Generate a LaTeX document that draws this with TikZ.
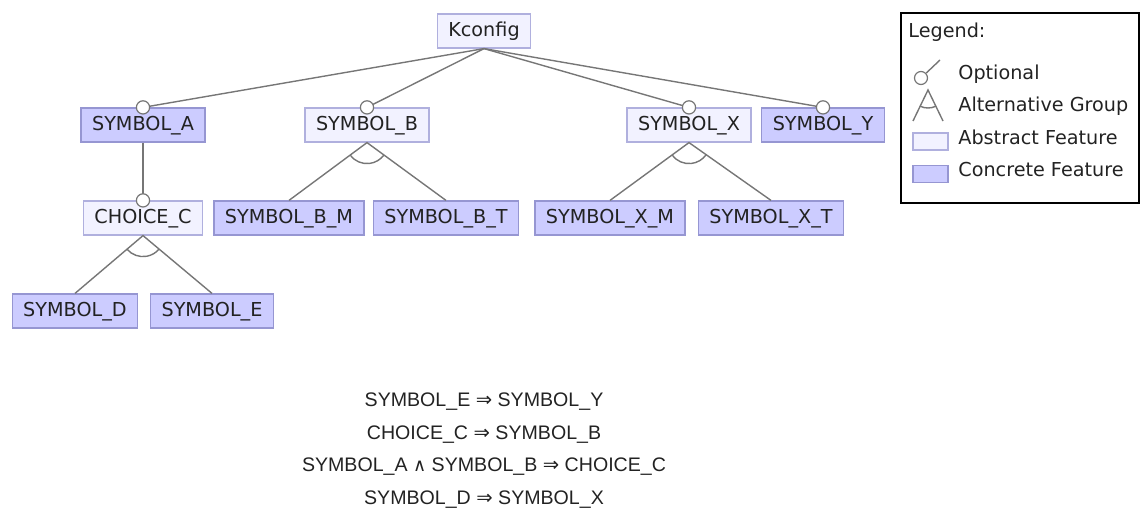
\documentclass[tikz,border=0pt]{standalone}
\usepackage{fontspec}
\setmainfont{DejaVu Sans}
\newfontfamily\constrfont{Liberation Sans}
\newfontfamily\symfont{DejaVu Sans}
\usetikzlibrary{angles}
\definecolor{abstractfill}{RGB}{242,242,255}
\definecolor{abstractdraw}{RGB}{176,176,222}
\definecolor{concretefill}{RGB}{204,204,255}
\definecolor{concretedraw}{RGB}{150,150,210}
\definecolor{edgegray}{RGB}{118,118,118}
\definecolor{textgray}{RGB}{34,34,34}

\begin{document}
\begin{tikzpicture}[x=0.5pt,y=0.5pt,
    feature/.style={rectangle,minimum height=17pt,inner xsep=5.5pt,inner ysep=0pt,text=textgray,
      font=\fontsize{9.6}{11}\selectfont,text height=7.2pt,text depth=2pt,line width=0.6pt},
    abstract/.style={feature,fill=abstractfill,draw=abstractdraw},
    concrete/.style={feature,fill=concretefill,draw=concretedraw},
    swatch/.style={rectangle,minimum width=17.5pt,minimum height=8.5pt,inner sep=0pt,line width=0.6pt},
    edge/.style={draw=edgegray,line width=0.7pt},
    optional/.style={circle,draw=edgegray,fill=white,line width=0.6pt,inner sep=0pt,minimum size=6.6pt},
    altarc/.style={draw=edgegray,line width=0.7pt,angle radius=10.5pt},
    legendtext/.style={anchor=west,inner sep=0pt,text=textgray,font=\fontsize{9.6}{11}\selectfont,
      text height=7.2pt,text depth=2pt},
    constraint/.style={inner sep=0pt,text=textgray,font=\constrfont\fontsize{9.8}{11}\selectfont}]

    \useasboundingbox (0,0) rectangle (1141,-508);

    % features
    \node[abstract] (kconfig) at (484,-31) {Kconfig};
    \node[concrete] (symbolA) at (143,-125) {SYMBOL\_A};
    \node[abstract] (symbolB) at (367,-125) {SYMBOL\_B};
    \node[abstract] (symbolX) at (689,-125) {SYMBOL\_X};
    \node[concrete] (symbolY) at (823,-125) {SYMBOL\_Y};
    \node[abstract] (choiceC) at (143,-218) {CHOICE\_C};
    \node[concrete] (symbolBM) at (289,-218) {SYMBOL\_B\_M};
    \node[concrete] (symbolBT) at (446,-218) {SYMBOL\_B\_T};
    \node[concrete] (symbolXM) at (610,-218) {SYMBOL\_X\_M};
    \node[concrete] (symbolXT) at (771,-218) {SYMBOL\_X\_T};
    \node[concrete] (symbolD) at (75,-311) {SYMBOL\_D};
    \node[concrete] (symbolE) at (212,-311) {SYMBOL\_E};

    % optional children
    \foreach \parent/\child in {kconfig/symbolA,kconfig/symbolB,kconfig/symbolX,kconfig/symbolY,symbolA/choiceC}{
      \draw[edge] (\parent.south) -- (\child.north);
      \node[optional] at (\child.north) {};
    }

    % alternative groups
    \foreach \parent/\left/\right in {symbolB/symbolBM/symbolBT,symbolX/symbolXM/symbolXT,choiceC/symbolD/symbolE}{
      \coordinate (\parent-s) at (\parent.south);
      \coordinate (\left-n) at (\left.north);
      \coordinate (\right-n) at (\right.north);
      \draw[edge] (\left-n) -- (\parent-s) -- (\right-n);
      \pic[altarc] {angle=\left-n--\parent-s--\right-n};
    }

    % legend
    \draw[line width=0.6pt] (901,-13) rectangle (1139,-203);
    \node[legendtext] (legTitle) at (908,-32) {Legend:};
    \node[optional,minimum size=6.5pt] (legOpt) at (921,-78) {};
    \coordinate (legOptEnd) at (940,-60);
    \draw[edge] (legOpt) -- (legOptEnd);
    \node[legendtext] (legOptText) at (958,-74) {Optional};
    \coordinate (altApex) at (928,-90);
    \coordinate (altLeft) at (913,-121);
    \coordinate (altRight) at (943,-121);
    \draw[edge] (altLeft) -- (altApex) -- (altRight);
    \pic[altarc,angle radius=9pt] {angle=altLeft--altApex--altRight};
    \node[legendtext] (legAltText) at (958,-106) {Alternative Group};
    \node[swatch,fill=abstractfill,draw=abstractdraw] (legAbstract) at (930.5,-141.5) {};
    \node[legendtext] (legAbstractText) at (958,-139) {Abstract Feature};
    \node[swatch,fill=concretefill,draw=concretedraw] (legConcrete) at (930.5,-174) {};
    \node[legendtext] (legConcreteText) at (958,-171) {Concrete Feature};

    % constraints
    \node[constraint] (cons1) at (484,-402) {SYMBOL\_E {\symfont ⇒} SYMBOL\_Y};
    \node[constraint] (cons2) at (484,-435) {CHOICE\_C {\symfont ⇒} SYMBOL\_B};
    \node[constraint] (cons3) at (484,-467) {SYMBOL\_A {\symfont\small ∧} SYMBOL\_B {\symfont ⇒} CHOICE\_C};
    \node[constraint] (cons4) at (484,-500) {SYMBOL\_D {\symfont ⇒} SYMBOL\_X};
\end{tikzpicture}
\end{document}
